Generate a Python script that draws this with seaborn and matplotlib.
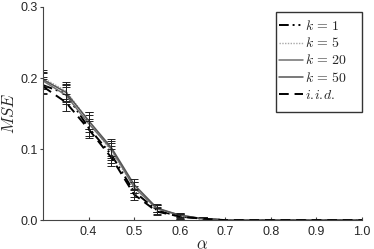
import numpy as np
import pandas as pd
import matplotlib
matplotlib.use("Agg")
import matplotlib.pyplot as plt
from matplotlib.patches import Rectangle
import seaborn as sns

alpha = [0.30, 0.35, 0.40, 0.45, 0.50, 0.55, 0.60, 0.65, 0.70, 0.75, 0.80, 0.85, 0.90, 0.95, 1.00]
mse_k1 = [0.190, 0.178, 0.130, 0.092, 0.040, 0.014, 0.005, 0.002, 0.000, 0.0, 0.0, 0.0, 0.0, 0.0, 0.0]
mse_k5 = [0.200, 0.182, 0.140, 0.096, 0.046, 0.016, 0.006, 0.002, 0.000, 0.0, 0.0, 0.0, 0.0, 0.0, 0.0]
mse_k20 = [0.196, 0.176, 0.136, 0.100, 0.046, 0.016, 0.007, 0.002, 0.000, 0.0, 0.0, 0.0, 0.0, 0.0, 0.0]
mse_k50 = [0.198, 0.180, 0.140, 0.102, 0.050, 0.017, 0.007, 0.002, 0.000, 0.0, 0.0, 0.0, 0.0, 0.0, 0.0]
mse_iid = [0.188, 0.166, 0.128, 0.088, 0.036, 0.012, 0.005, 0.002, 0.000, 0.0, 0.0, 0.0, 0.0, 0.0, 0.0]
err = [0.011, 0.012, 0.012, 0.012, 0.008, 0.005, 0.003, 0.002, 0.0, 0.0, 0.0, 0.0, 0.0, 0.0, 0.0]

labels = [r"$k\,=\,1$", r"$k\,=\,5$", r"$k\,=\,20$", r"$k\,=\,50$", r"$i.\!i.\!d.$"]
series = [mse_k1, mse_k5, mse_k20, mse_k50, mse_iid]
colors = ["black", "#a8a8a8", "#707070", "#555555", "black"]
styles = [(0, (5, 2, 1, 2, 1, 2)), (0, (1, 1)), "-", "-", (0, (5, 3))]
widths = [1.4, 1.0, 1.1, 1.1, 1.4]

sns.set_style("ticks")
plt.rcParams["mathtext.fontset"] = "cm"
plt.rcParams["font.family"] = ["Liberation Sans", "DejaVu Sans"]

fig = plt.figure(figsize=(3.74, 2.49), dpi=100)
ax = fig.add_axes([0.115, 0.116, 0.853, 0.856])

for ys, lab, c, ls, lw in zip(series, labels, colors, styles, widths):
    df = pd.DataFrame({"alpha": alpha, "mse": ys})
    sns.lineplot(data=df, x="alpha", y="mse", ax=ax, color=c, linestyle=ls,
                 linewidth=lw, label=lab)
    ax.errorbar(alpha[:8], ys[:8], yerr=err[:8], fmt="none", ecolor="#222222",
                elinewidth=0.7, capsize=3, capthick=0.7)

ax.set_xlim(0.3, 1.0)
ax.set_ylim(0, 0.3)
ax.set_xticks([0.4, 0.5, 0.6, 0.7, 0.8, 0.9, 1.0])
ax.set_yticks([0.0, 0.1, 0.2, 0.3])
ax.tick_params(axis="x", direction="in", labelsize=9, length=2.5, color="#444444", pad=4)
ax.tick_params(axis="y", direction="out", labelsize=9, length=2.5, color="#444444", pad=1.5)
for s in ["left", "bottom"]:
    ax.spines[s].set_color("#444444")
    ax.spines[s].set_linewidth(0.8)
sns.despine(ax=ax)
ax.set_xlabel(r"$\alpha$", fontsize=12, labelpad=0)
ax.set_ylabel(r"$MSE$", fontsize=12, labelpad=2)

leg = ax.legend(loc="upper left", bbox_to_anchor=(0.73, 0.955), fontsize=10,
                handlelength=1.75, handletextpad=0.15, labelspacing=0.22,
                frameon=False, borderpad=0.2, borderaxespad=0)
ax.add_patch(Rectangle((0.730, 0.507), 0.27, 0.47, transform=ax.transAxes,
                       fill=False, edgecolor="#333333", linewidth=1.0,
                       clip_on=False, zorder=5))

fig.savefig("out.png", dpi=100)
